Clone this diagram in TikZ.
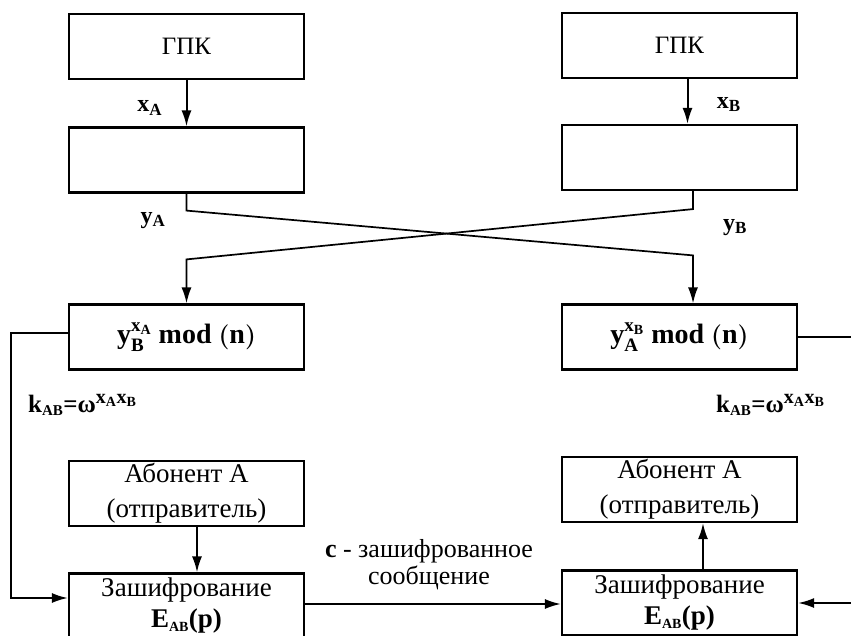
\documentclass[tikz,border=0pt]{standalone}
\usepackage{amsmath}
\usepackage{fontspec}
\setmainfont{Liberation Serif}
\usepackage{tikz}
\usetikzlibrary{shapes,arrows.meta}
\DeclareMathSizes{24}{24}{17}{12}
\DeclareMathSizes{25}{25}{20}{14}
\DeclareMathSizes{27}{27}{14}{11}
\DeclareMathSizes{28}{28}{19}{14}
\tikzstyle{block} = [rectangle, draw, line width=2.2pt, minimum width=235pt,
    minimum height=65pt, text centered, inner sep=0pt, font=\fontsize{27}{31}\selectfont]
\tikzstyle{line} = [draw, line width=2pt, -{Latex[length=16pt,width=10pt]}]
\tikzstyle{cross} = [line, line width=1.7pt]
\tikzstyle{wire} = [draw, line width=2pt]
\tikzstyle{lbl} = [font=\bfseries\fontsize{24}{28}\selectfont]
\tikzstyle{klbl} = [font=\bfseries\fontsize{25}{28}\selectfont]

\begin{document}
\begin{tikzpicture}[node distance = 493pt, auto]
    \useasboundingbox (0,0) rectangle (851pt,-636pt);
    % Place nodes
    \node [block, font=\fontsize{25}{28}\selectfont] (gpkA) at (186.5pt,-46.5pt) {ГПК};
    \node [block, font=\fontsize{25}{28}\selectfont, right of=gpkA, yshift=1pt] (gpkB) {ГПК};
    \node [block, below of=gpkA, node distance=113.5pt] (calcA) {};
    \node [block, right of=calcA, yshift=2.5pt] (calcB) {};
    \node [block, below of=calcA, node distance=177pt, font=\bfseries\fontsize{28}{32}\selectfont] (modA)
        {\textbf{y}$_{\textbf{B}}^{\textbf{x}_{\textbf{A}}}$ \textbf{mod} {\boldmath$\left(\textbf{n}\right)$}};
    \node [block, right of=modA, font=\bfseries\fontsize{28}{32}\selectfont] (modB)
        {\textbf{y}$_{\textbf{A}}^{\textbf{x}_{\textbf{B}}}$ \textbf{mod} {\boldmath$\left(\textbf{n}\right)$}};
    \node [block, below of=modA, node distance=156.5pt, align=center,
        font=\fontsize{27}{35}\selectfont] (userA) {Абонент А\\(отправитель)};
    \node [block, right of=userA, yshift=4pt, align=center,
        font=\fontsize{27}{35}\selectfont] (userB) {Абонент А\\(отправитель)};
    \node [block, below of=userA, node distance=112.5pt, align=center] (encA)
        {Зашифрование\\\textbf{E}$_{\textbf{AB}}$\textbf{(p)}};
    \node [block, right of=encA, yshift=3pt, align=center] (encB)
        {Зашифрование\\\textbf{E}$_{\textbf{AB}}$\textbf{(p)}};
    \node [lbl] (yA) at ([xshift=-33.5pt,yshift=-26.5pt]calcA.south) {y$_{\textbf{A}}$};
    \node [lbl] (yB) at ([xshift=55.5pt,yshift=-36pt]calcB.south) {y$_{\textbf{B}}$};
    \node [klbl] (kA) at ([xshift=-104pt,yshift=-68pt]modA.center)
        {k$_{\textbf{\fontsize{15}{15}\selectfont AB}}$=ω$^{\textbf{x}_{\textbf{A}}\textbf{x}_{\textbf{B}}}$};
    \node [klbl] (kB) at ([xshift=91pt,yshift=-68pt]modB.center)
        {k$_{\textbf{\fontsize{15}{15}\selectfont AB}}$=ω$^{\textbf{x}_{\textbf{A}}\textbf{x}_{\textbf{B}}}$};
    \coordinate (outB) at ([xshift=56pt]modB.east);
    \coordinate (inB) at ([xshift=56pt]encB.east);

    % Draw edges
    \path [line] (gpkA) -- node [lbl, left, pos=0.6, xshift=-20pt] {x$_{\textbf{A}}$} (calcA);
    \path [line] ([xshift=8pt]gpkB.south) -- node [lbl, right, pos=0.57, xshift=25pt] {x$_{\textbf{B}}$}
        ([xshift=8pt]calcB.north);
    \path [cross] (calcA.south) -- ++(0,-17pt) -- ([xshift=13.5pt,yshift=48pt]modB.north)
        -- ([xshift=13.5pt]modB.north);
    \path [cross] ([xshift=13.5pt]calcB.south) -- ++(0,-18pt) -- ([yshift=44pt]modA.north)
        -- (modA.north);
    \path [line] ([yshift=4pt]modA.west) -- ++(-57pt,0) |- ([yshift=8pt]encA.west);
    \path [wire] (modB.east) -- (outB);
    \path [line] (inB) -- (encB.east);
    \path [line] ([xshift=10.5pt]userA.south) -- ([xshift=10.5pt]encA.north);
    \path [line] ([xshift=23.5pt]encB.north) -- ([xshift=23.5pt]userB.south);
    \path [line] ([yshift=2pt]encA.east) -- node [above, align=center, yshift=10pt, xshift=-4pt,
        font=\fontsize{26}{27}\selectfont] {\textbf{c} - зашифрованное\\сообщение} ([yshift=-1pt]encB.west);
\end{tikzpicture}
\end{document}
